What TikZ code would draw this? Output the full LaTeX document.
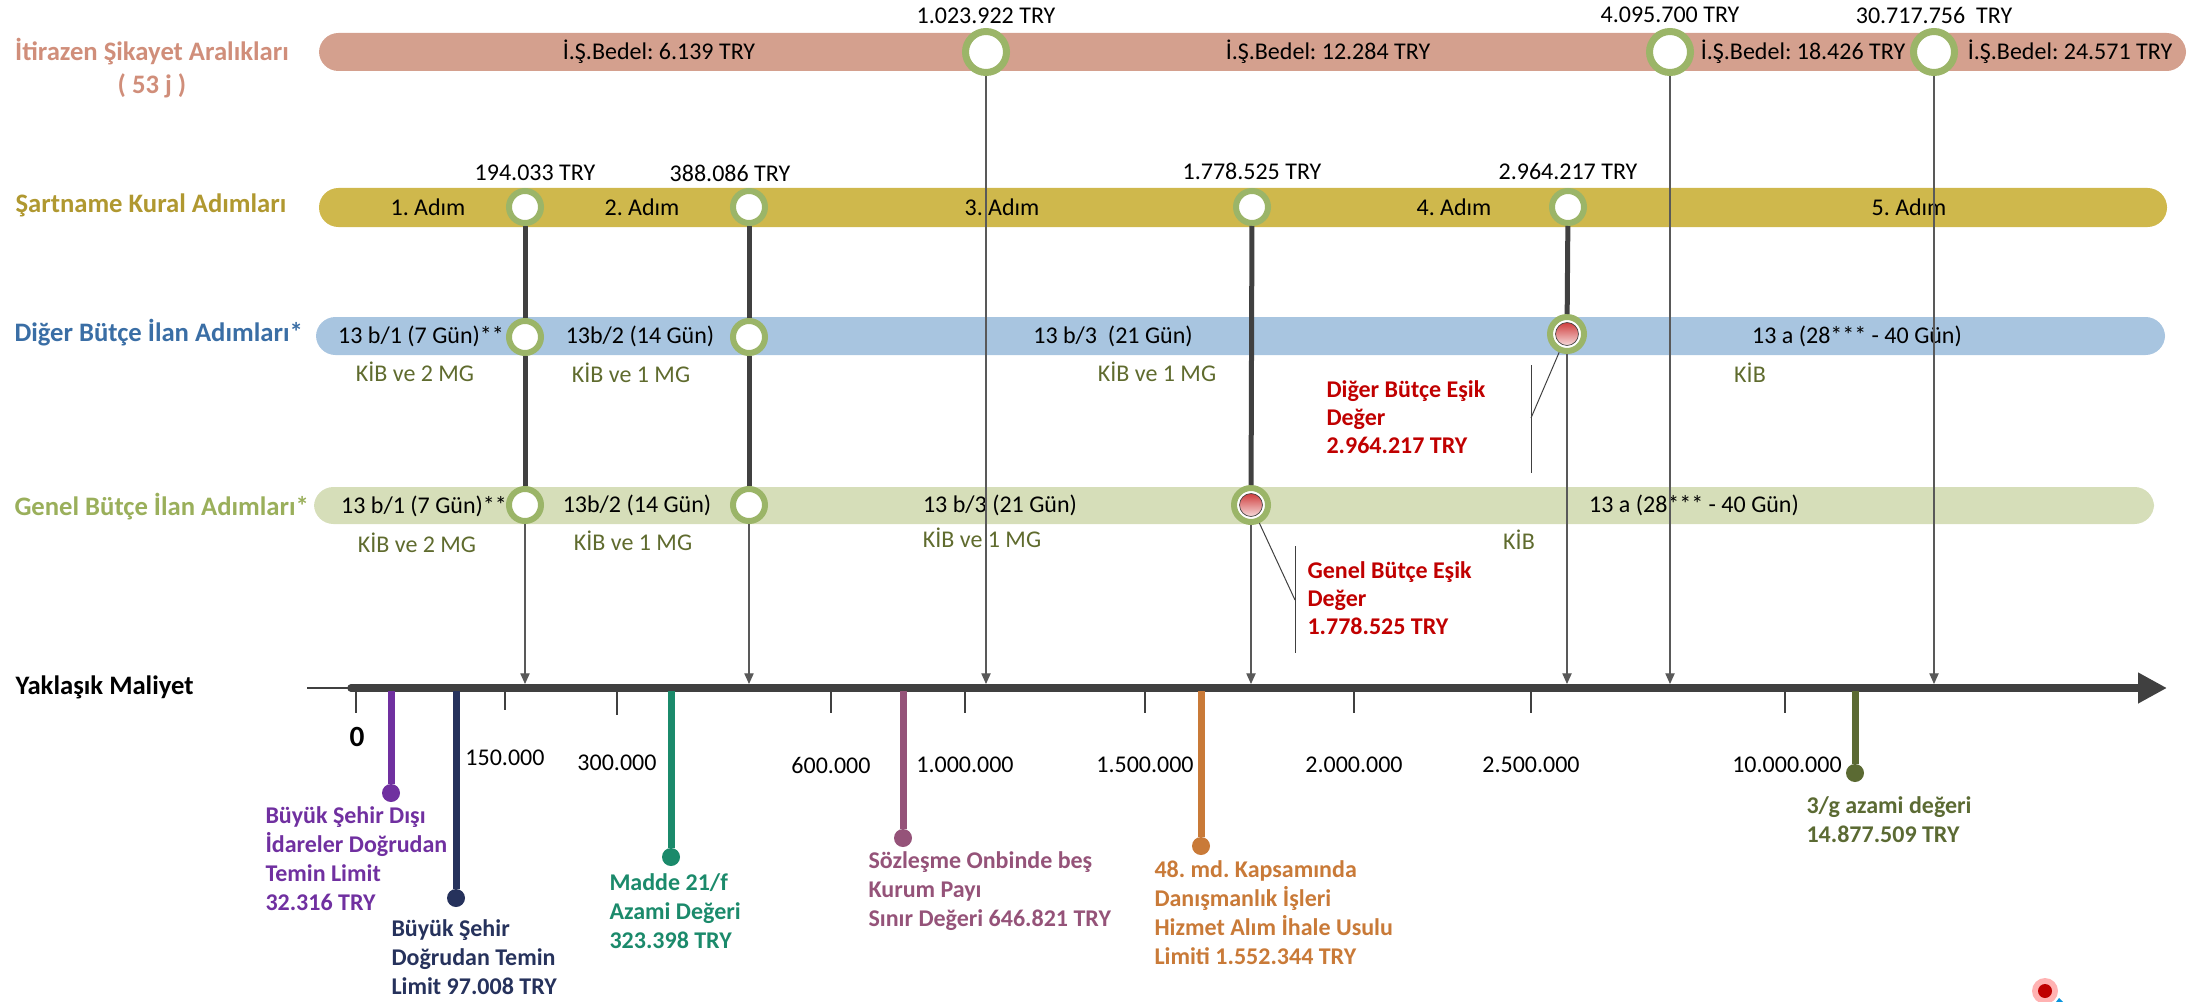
\documentclass[tikz,border=0pt]{standalone}
\usepackage{fontspec}
\setmainfont{Carlito}
\usetikzlibrary{arrows.meta,positioning}
\frenchspacing

\definecolor{itirazbar}{RGB}{212,160,142}
\definecolor{itiraztxt}{RGB}{208,142,122}
\definecolor{sartbar}{RGB}{207,184,76}
\definecolor{sarttxt}{RGB}{176,152,48}
\definecolor{digerbar}{RGB}{168,197,224}
\definecolor{digertxt}{RGB}{58,110,165}
\definecolor{genelbar}{RGB}{214,222,185}
\definecolor{geneltxt}{RGB}{154,175,91}
\definecolor{ringgreen}{RGB}{155,181,104}
\definecolor{kibtxt}{RGB}{95,107,46}
\definecolor{esikred}{RGB}{192,0,0}
\definecolor{axisgray}{RGB}{64,64,64}
\definecolor{pinpurple}{RGB}{112,48,160}
\definecolor{pinnavy}{RGB}{38,50,92}
\definecolor{pinteal}{RGB}{27,138,107}
\definecolor{pinmauve}{RGB}{149,83,121}
\definecolor{pinorange}{RGB}{201,122,56}
\definecolor{pinolive}{RGB}{91,106,51}

\tikzset{every picture/.style={line width=0.75pt}}
\tikzset{
  barshape/.style={rounded corners=14.6pt},
  txt/.style={font=\fontsize{18pt}{21.75pt}\selectfont, inner sep=0pt},
  kibtxt/.style={txt, text=kibtxt},
  rowlabel/.style={font=\bfseries\fontsize{20pt}{24.75pt}\selectfont, inner sep=0pt, anchor=west},
  esiktxt/.style={font=\bfseries\fontsize{18pt}{21pt}\selectfont, text=esikred, align=left, anchor=north west, inner sep=0pt},
  pintxt/.style={font=\bfseries\fontsize{18pt}{21.75pt}\selectfont, text=#1, align=left, anchor=north west, inner sep=0pt},
  pinball/.style={circle, fill=#1, minimum size=13.5pt, inner sep=0pt},
  pinline/.style={draw=#1, line width=5.25pt},
  mstone/.style={circle, draw=ringgreen, line width=4.5pt, fill=white, minimum size=24pt, inner sep=0pt},
  bigstone/.style={mstone, line width=5.25pt, minimum size=30.75pt},
  redstone/.style={mstone, minimum size=25.5pt,
    path picture={\shadedraw[top color=esikred!90!white, bottom color=white, draw=axisgray, line width=0.5pt]
      (path picture bounding box.center) circle (8.6pt);}},
  heavylink/.style={draw=axisgray, line width=3.75pt},
  guideline/.style={draw=gray!70!black, line width=0.8pt, -{Triangle[length=8pt,width=7pt]}},
  callout/.style={draw=axisgray, line width=0.75pt},
  ticmark/.style={draw=axisgray, line width=1.1pt}
}

\begin{document}
\begin{tikzpicture}[x=0.75pt,y=0.75pt,yscale=-1,xscale=1]
	\useasboundingbox (0,0) rectangle (2188,1002);
	
	%Rounded Rect: bars
	\fill[itirazbar, barshape] (319,33) rectangle (2186,71);
	\fill[sartbar, barshape] (319,188) rectangle (2167,227);
	\fill[digerbar, barshape] (316,317) rectangle (2165,355);
	\fill[genelbar, barshape] (314,487) rectangle (2154,524);
	
	% Text Node: row labels
	\node[rowlabel, text=itiraztxt, anchor=center, align=center] (lblItiraz) at (152,68) {İtirazen Şikayet Aralıkları\\( 53 j )};
	\node[rowlabel, text=sarttxt] (lblSart) at (15,205) {Şartname Kural Adımları};
	\node[rowlabel, text=digertxt] (lblDiger) at (14,333) {Diğer Bütçe İlan Adımları*};
	\node[rowlabel, text=geneltxt] (lblGenel) at (14,507) {Genel Bütçe İlan Adımları*};
	\node[rowlabel, text=black] (lblMaliyet) at (15,687) {Yaklaşık Maliyet};
	
	% Text Node: itirazen bar
	\node[txt] (bedel1) at (659,52) {İ.Ş.Bedel: 6.139 TRY};
	\node[txt] (bedel2) at (1328,52) {İ.Ş.Bedel: 12.284 TRY};
	\node[txt] (bedel3) at (1803,52) {İ.Ş.Bedel: 18.426 TRY};
	\node[txt] (bedel4) at (2070,52) {İ.Ş.Bedel: 24.571 TRY};
	% Text Node: sartname bar
	\node[txt] (adim1) at (428,207) {1. Adım};
	\node[txt] (adim2) at (642,207) {2. Adım};
	\node[txt] (adim3) at (1002,207) {3. Adım};
	\node[txt] (adim4) at (1454,207) {4. Adım};
	\node[txt] (adim5) at (1909,207) {5. Adım};
	% Text Node: diger bar
	\node[txt] (dgr1) at (421,336) {13 b/1 (7 Gün)**};
	\node[txt] (dgr2) at (640,336) {13b/2 (14 Gün)};
	\node[txt] (dgr3) at (1113,336) {13 b/3\ \ (21 Gün)};
	\node[txt] (dgr4) at (1857,336) {13 a (28*** - 40 Gün)};
	\node[kibtxt] (dkib1) at (415,372) {KİB ve 2 MG};
	\node[kibtxt] (dkib2) at (631,373) {KİB ve 1 MG};
	\node[kibtxt] (dkib3) at (1157,372) {KİB ve 1 MG};
	\node[kibtxt] (dkib4) at (1750,373) {KİB};
	% Text Node: genel bar
	\node[txt] (gnl1) at (424,506) {13 b/1 (7 Gün)**};
	\node[txt] (gnl2) at (637,505) {13b/2 (14 Gün)};
	\node[txt] (gnl3) at (1000,505) {13 b/3 (21 Gün)};
	\node[txt] (gnl4) at (1694,505) {13 a (28*** - 40 Gün)};
	\node[kibtxt] (gkib1) at (417,543) {KİB ve 2 MG};
	\node[kibtxt] (gkib2) at (633,541) {KİB ve 1 MG};
	\node[kibtxt] (gkib3) at (982,538) {KİB ve 1 MG};
	\node[kibtxt] (gkib4) at (1519,540) {KİB};
	
	% Text Node: threshold values
	\node[txt] (val1) at (986,16) {1.023.922 TRY};
	\node[txt] (val2) at (1670,15) {4.095.700 TRY};
	\node[txt] (val3) at (1934,15) {30.717.756\ \ TRY};
	\node[txt] (val4) at (535,173) {194.033 TRY};
	\node[txt] (val5) at (730,173) {388.086 TRY};
	\node[txt] (val6) at (1252,171) {1.778.525 TRY};
	\node[txt] (val7) at (1568,171) {2.964.217 TRY};
	
	%Shape: Circle milestones
	\node[bigstone] (i1) at (986,52) {};
	\node[bigstone] (i2) at (1670,52) {};
	\node[bigstone] (i3) at (1934,52) {};
	\node[mstone] (s1) at (525,207) {};
	\node[mstone] (s2) at (749,207) {};
	\node[mstone] (s3) at (1252,207) {};
	\node[mstone] (s4) at (1568,207) {};
	\node[mstone] (d1) at (525,337) {};
	\node[mstone] (d2) at (749,337) {};
	\node[redstone] (dR) at (1567,334) {};
	\node[mstone] (g1) at (525,505) {};
	\node[mstone] (g2) at (749,505) {};
	\node[redstone] (gR) at (1251,505) {};
	
	%Straight Lines: heavy links
	\draw[heavylink] (s1) -- (d1);
	\draw[heavylink] (d1) -- (g1);
	\draw[heavylink] (s2) -- (d2);
	\draw[heavylink] (d2) -- (g2);
	\draw[heavylink] (s3) -- (gR);
	\draw[heavylink] (s4) -- (dR);
	
	%Axis
	\coordinate (ax0) at (307,688);
	\coordinate (ax1) at (351,688);
	\coordinate (ax2) at (2167,688);
	\draw[axisgray, line width=1.5pt] (ax0) -- (ax1);
	\draw[axisgray, line width=5.6pt, line cap=round, -{Triangle[length=21.75pt,width=21.75pt]}] (ax1) -- (ax2);
	
	%Straight Lines: guides down to the axis
	\coordinate (hit1) at (986,684);
	\coordinate (hit2) at (1670,684);
	\coordinate (hit3) at (1934,684);
	\coordinate (hit4) at (525,684);
	\coordinate (hit5) at (749,684);
	\coordinate (hit6) at (1251,684);
	\coordinate (hit7) at (1567,684);
	\draw[guideline] (i1) -- (hit1);
	\draw[guideline] (i2) -- (hit2);
	\draw[guideline] (i3) -- (hit3);
	\draw[guideline] (g1) -- (hit4);
	\draw[guideline] (g2) -- (hit5);
	\draw[guideline] (gR) -- (hit6);
	\draw[guideline] (dR) -- (hit7);
	
	%Straight Lines: ticks
	\draw[ticmark] (356,690) -- (356,713);
	\draw[ticmark] (505,690) -- (505,710);
	\draw[ticmark] (617,690) -- (617,715);
	\draw[ticmark] (831,690) -- (831,713);
	\draw[ticmark] (965,690) -- (965,713);
	\draw[ticmark] (1145,690) -- (1145,713);
	\draw[ticmark] (1354,690) -- (1354,713);
	\draw[ticmark] (1531,690) -- (1531,713);
	\draw[ticmark] (1785,690) -- (1785,713);
	
	% Text Node: tick labels
	\node[txt, font=\bfseries\fontsize{22pt}{26pt}\selectfont] (tk0) at (357,737) {0};
	\node[txt] (tk1) at (505,758) {150.000};
	\node[txt] (tk2) at (617,763) {300.000};
	\node[txt] (tk3) at (831,765) {600.000};
	\node[txt] (tk4) at (965,765) {1.000.000};
	\node[txt] (tk5) at (1145,765) {1.500.000};
	\node[txt] (tk6) at (1354,765) {2.000.000};
	\node[txt] (tk7) at (1531,765) {2.500.000};
	\node[txt] (tk8) at (1787,765) {10.000.000};
	
	%Callouts: threshold values
	\coordinate (dcTop) at (1531,365);
	\coordinate (dcBot) at (1531,473);
	\coordinate (dcMid) at (1531,418);
	\draw[callout] (dcTop) -- (dcBot);
	\draw[callout] (dcMid) -- (dR);
	\node[esiktxt] (dEsik) at (1326,380) {Diğer Bütçe Eşik\\Değer\\2.964.217 TRY};
	\coordinate (gcTop) at (1295,546);
	\coordinate (gcBot) at (1295,653);
	\coordinate (gcMid) at (1295,600);
	\draw[callout] (gcTop) -- (gcBot);
	\draw[callout] (gcMid) -- (gR);
	\node[esiktxt] (gEsik) at (1307,561) {Genel Bütçe Eşik\\Değer\\1.778.525 TRY};
	
	%Pins under the axis
	\coordinate (p1) at (391,691);
	\coordinate (p2) at (456,691);
	\coordinate (p3) at (671,691);
	\coordinate (p4) at (903,691);
	\coordinate (p5) at (1201,691);
	\coordinate (p6) at (1855,691);
	\node[pinball=pinpurple] (b1) at (391,793) {};
	\node[pinball=pinnavy] (b2) at (456,898) {};
	\node[pinball=pinteal] (b3) at (671,857) {};
	\node[pinball=pinmauve] (b4) at (903,838) {};
	\node[pinball=pinorange] (b5) at (1201,846) {};
	\node[pinball=pinolive] (b6) at (1855,773) {};
	\draw[pinline=pinpurple] (p1) -- (b1);
	\draw[pinline=pinnavy] (p2) -- (b2);
	\draw[pinline=pinteal] (p3) -- (b3);
	\draw[pinline=pinmauve] (p4) -- (b4);
	\draw[pinline=pinorange] (p5) -- (b5);
	\draw[pinline=pinolive] (p6) -- (b6);
	
	% Text Node: pin labels
	\node[pintxt=pinpurple] (t1) at (265,806) {Büyük Şehir Dışı\\İdareler Doğrudan\\Temin Limit\\32.316 TRY};
	\node[pintxt=pinnavy] (t2) at (391,919) {Büyük Şehir\\Doğrudan Temin\\Limit 97.008 TRY};
	\node[pintxt=pinteal] (t3) at (609,873) {Madde 21/f\\Azami Değeri\\323.398 TRY};
	\node[pintxt=pinmauve] (t4) at (868,851) {Sözleşme Onbinde beş\\Kurum Payı\\Sınır Değeri 646.821 TRY};
	\node[pintxt=pinorange] (t5) at (1154,860) {48. md. Kapsamında\\Danışmanlık İşleri\\Hizmet Alım İhale Usulu\\Limiti 1.552.344 TRY};
	\node[pintxt=pinolive] (t6) at (1806,796) {3/g azami değeri\\14.877.509 TRY};
	
	%Shape: small marker bottom right
	\fill[red!30!white] (2045,991) circle (13);
	\fill[red!75!black] (2045,991) circle (7);
	\fill[cyan!80!blue] (2056,1002) -- (2059,998) -- (2063,1002) -- cycle;
	
\end{tikzpicture}
\end{document}
